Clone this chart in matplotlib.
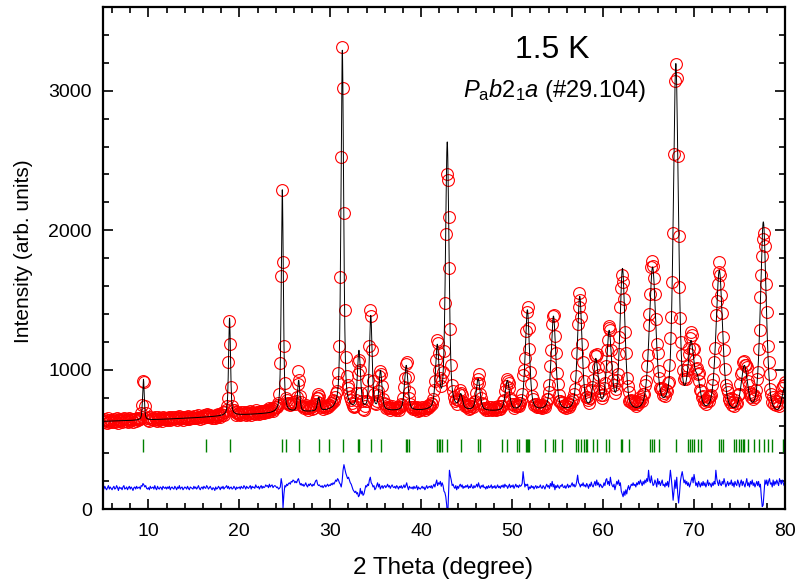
import numpy as np
import matplotlib.pyplot as plt
from matplotlib.ticker import MultipleLocator

plt.rcParams['font.family'] = ['Liberation Sans', 'DejaVu Sans']
plt.rcParams['mathtext.fontset'] = 'custom'
plt.rcParams['mathtext.rm'] = 'Liberation Sans'
plt.rcParams['mathtext.it'] = 'Liberation Sans:italic'

# background of the fit (2theta, counts)
bg_x = [5, 10, 15, 20, 25, 30, 35, 40, 45, 50, 55, 60, 65, 70, 75, 80]
bg_y = [630, 640, 655, 675, 690, 700, 700, 700, 700, 695, 690, 675, 660, 660, 655, 650]

# reflections of the calculated curve: position, top of the curve, fwhm
peak_pos = [9.45, 18.92, 24.72, 26.52, 28.72, 31.32, 33.15, 34.45, 35.52, 38.35,
            41.76, 42.86, 44.35, 46.26, 49.47, 51.67, 54.54, 57.43, 59.2, 60.66,
            62.13, 65.44, 68.0, 69.66, 70.4, 72.78, 75.53, 77.62, 79.95]
peak_top = [932, 1370, 2290, 925, 805, 3290, 1140, 1390, 996, 1032,
            1183, 2633, 830, 937, 925, 1430, 1385, 1527, 1082, 1283,
            1727, 1737, 3195, 1211, 960, 1713, 1032, 2060, 870]
peak_fwhm = [0.22, 0.25, 0.27, 0.3, 0.32, 0.35, 0.4, 0.35, 0.38, 0.45,
             0.45, 0.45, 0.45, 0.5, 0.55, 0.55, 0.6, 0.6, 0.65, 0.65,
             0.65, 0.85, 0.65, 0.75, 0.7, 0.85, 0.85, 0.75, 0.7]

# Bragg reflection marks
bragg_pos = [9.45, 16.35, 18.92, 24.69, 25.13, 26.52, 28.72, 29.82, 31.37, 33.06,
             33.2, 34.49, 35.59, 38.27, 38.45, 38.63, 41.76, 41.94, 42.05, 42.23,
             42.86, 44.4, 46.24, 46.42, 48.84, 49.47, 50.57, 50.75, 51.49, 51.6,
             51.74, 51.85, 53.58, 54.5, 54.68, 55.45, 57.07, 57.25, 57.54, 57.91,
             58.1, 58.2, 58.94, 59.38, 60.3, 60.66, 61.95, 62.13, 62.86, 65.18,
             65.33, 65.55, 66.17, 68.0, 69.36, 69.58, 69.74, 70.02, 70.4, 70.76,
             72.78, 72.96, 73.15, 74.43, 74.61, 74.98, 75.16, 75.35, 75.53, 75.9,
             76.63, 77.18, 77.73, 78.1, 78.54, 79.76, 79.93]

# obs - calc, one row per degree, step 0.1
resid = [
    10, -5, 15, 0, -10, 5, 20, -5, 10, 0,
    -10, 5, 15, -5, 0, 20, 5, -15, 10, 0,
    5, -10, 10, 20, -5, 0, 10, -10, 5, 15,
    -5, 10, 0, -15, 5, 10, -5, 15, 0, 5,
    10, -5, 20, 15, 35, 25, 10, 20, 0, -5,
    5, -10, 15, 0, 5, 10, -5, 20, 0, -10,
    15, 0, -5, 10, 5, -10, 15, 5, 0, 10,
    -5, 10, 0, 15, -10, 5, 10, 0, -5, 15,
    5, -10, 10, 0, 20, -5, 5, 10, -10, 0,
    10, 5, -5, 15, 0, -10, 10, 5, 0, -5,
    15, 0, 10, -5, 5, 20, 0, -10, 5, 10,
    -5, 15, 5, 0, 20, 10, -5, 5, 15, 0,
    -10, 5, 0, -15, 10, -5, 0, 15, 5, -10,
    10, 0, 15, -5, 5, 10, 20, 0, 15, -5,
    5, 10, -5, 0, 15, 5, -10, 10, 0, 5,
    10, -5, 15, 5, 0, 20, 10, -5, 15, 5,
    0, 10, 20, -5, 15, 5, 10, 0, 25, 10,
    5, 15, -5, 10, 20, 0, 15, 5, 10, 25,
    15, 20, 5, 30, 10, 20, 25, 5, 15, 20,
    15, 5, 10, -5, 0, 10, 70, 30, -140, -40,
    20, 10, 30, 20, 35, 40, 30, 50, 45, 60,
    55, 40, 50, 40, 60, 70, 45, 25, 35, 20,
    30, 15, 25, 40, 20, 10, 30, 20, 35, 25,
    15, 30, 20, 40, 55, 60, 30, 20, 25, 15,
    10, 20, 5, 15, 25, 10, 20, 30, 15, 25,
    20, 35, 25, 40, 30, 45, 60, 50, 70, 60,
    40, 30, 10, 50, 130, 170, 140, 110, 90, 70,
    80, 60, 40, 30, 10, -10, -20, -30, -20, -40,
    -30, -60, -50, 0, -40, -20, -50, -40, -10, 20,
    10, 30, 20, 60, 80, 40, 30, 10, 20, -10,
    0, 20, 40, 10, 30, -5, 10, 20, 0, 15,
    20, 5, 15, 30, 10, 20, 0, 15, 25, 10,
    5, 15, 0, 20, 10, -5, 15, 5, 20, 0,
    10, 25, 5, 20, 40, 10, -10, 15, 5, 0,
    10, -5, 15, 0, 5, 20, -10, 10, 0, -5,
    5, 15, 0, 10, -10, 5, 20, 0, 10, 15,
    5, 20, 0, 15, 30, 10, 35, 60, 20, 40,
    30, 50, 15, 40, 20, -20, -30, -60, -120, -220,
    -40, 130, 90, 60, 20, 30, 10, 0, 20, -10,
    15, 0, 20, 30, 10, 25, 0, 15, 5, 20,
    10, 25, 0, 15, 5, 30, 10, 0, 20, 5,
    15, 30, 10, 40, 15, 0, 20, 10, 25, 5,
    10, -5, 15, 0, 20, 5, 10, 25, 0, 15,
    5, 20, 0, 10, 25, 5, 15, 0, 20, 10,
    25, 5, 30, 15, 20, 0, 15, 30, 5, 20,
    10, 25, 0, 15, 30, 10, 20, 5, 25, 15,
    20, 35, 120, 60, 10, 30, 20, 30, -10, 10,
    0, 20, 5, 15, -5, 10, 20, 0, 15, 5,
    10, 25, 5, 0, 20, 10, -5, 15, 30, 10,
    20, 0, 35, 15, 50, 10, 30, -10, 20, 5,
    25, 10, 0, 20, 15, 30, 10, 5, 20, 0,
    15, 30, 5, 20, 10, 25, 40, 15, 30, 10,
    20, 50, 95, 40, 30, 10, 30, 20, 40, 15,
    25, 10, 35, 20, 0, 30, 15, 45, 20, 10,
    30, 50, 20, 60, 25, 40, 10, 30, 20, 5,
    15, 40, 20, 60, 70, 30, 50, 20, 80, 40,
    20, 10, 30, -10, 20, 50, 30, 60, 20, 40,
    -20, -40, -60, -20, -50, -10, -40, 0, 20, -10,
    10, 30, 20, 40, 20, 30, 10, 40, 25, 50,
    30, 60, 40, 20, 50, 30, 60, 40, 70, 50,
    130, 60, 40, 90, 50, 20, 30, 60, 40, 10,
    70, 30, 50, 20, 40, 60, 20, 30, 10, 40,
    20, 50, 10, 60, 130, 70, 0, -85, -20, 60,
    0, 80, -30, -105, -40, 50, 90, 120, 80, 40,
    60, 30, 50, 20, 40, 10, 30, 60, 80, 40,
    100, 60, 20, 40, 10, 50, 30, 10, 40, 20,
    50, 20, 40, 10, 30, 60, 20, 40, 30, 10,
    40, 20, 50, 30, 130, 70, 40, 20, 60, 30,
    20, 50, 30, 70, 40, 10, 30, 50, 20, 40,
    30, 60, 20, 40, 10, 50, 30, 20, 60, 40,
    10, 40, 60, 20, 50, 30, 10, 40, 70, 20,
    40, 10, 50, 30, 60, 20, 40, 10, 30, 50,
    20, 50, 10, 30, -60, -130, -120, -30, 60, 30,
    60, 20, 50, 70, 30, 40, 10, 60, 20, 50,
    30, 60, 40, 20, 70, 50, 30, 60, 40, 20,
    50,
]
diff_offset = 150
step = 0.1


def pvoigt(x, x0, w, eta=0.5):
    d = (x - x0) / (w / 2)
    return eta / (1 + d**2) + (1 - eta) * np.exp(-np.log(2) * d**2)


pos = np.array(peak_pos)
fw = np.array(peak_fwhm)
# amplitudes so the calculated curve passes through the read peak tops
M = pvoigt(pos[:, None], pos[None, :], fw[None, :])
amp = np.linalg.solve(M, np.array(peak_top) - np.interp(pos, bg_x, bg_y))


def calc(x):
    return np.interp(x, bg_x, bg_y) + (amp * pvoigt(x[:, None], pos, fw)).sum(axis=1)


x_obs = 5 + step * np.arange(len(resid))
y_obs = calc(x_obs) + np.array(resid)
x_fine = np.linspace(5, 80, 7501)
y_calc = calc(x_fine)
y_diff = np.array(resid) + diff_offset

fig = plt.figure(figsize=(7.97, 5.83), dpi=100)
ax = fig.add_axes([0.1292, 0.1264, 0.8557, 0.8616])

ax.plot(x_obs, y_obs, 'o', mfc='none', mec='red', ms=8.5, mew=0.8)
ax.plot(x_fine, y_calc, color='black', lw=0.7)
ax.vlines(bragg_pos, 410, 505, color='green', lw=1)
ax.plot(x_obs, y_diff, color='blue', lw=0.8)

ax.set_xlim(5, 80)
ax.set_ylim(0, 3600)
ax.set_xticks(range(10, 81, 10))
ax.set_yticks([0, 1000, 2000, 3000])
ax.xaxis.set_minor_locator(MultipleLocator(2))
ax.yaxis.set_minor_locator(MultipleLocator(200))
ax.tick_params(which='both', direction='in', top=True, right=True, width=1.2, labelsize=14)
ax.tick_params(which='major', length=7)
ax.tick_params(which='minor', length=4)
ax.tick_params(axis='x', pad=10)
ax.tick_params(axis='y', pad=8)
for sp in ax.spines.values():
    sp.set_linewidth(1.6)

fig.text(443.5 / 797, 1 - 568 / 583, '2 Theta (degree)', fontsize=17.5, ha='center', va='center')
fig.text(24 / 797, 1 - 251 / 583, 'Intensity (arb. units)', fontsize=15,
         rotation=90, ha='center', va='center')

fig.text(552.5 / 797, 1 - 58.3 / 583, '1.5 K', fontsize=23, ha='center', va='baseline')
fig.text(555 / 797, 1 - 96.7 / 583, r'$P_{\mathrm{a}}b2_{1}a$ (#29.104)', fontsize=17,
         ha='center', va='baseline')

fig.savefig('out.png', dpi=100)
